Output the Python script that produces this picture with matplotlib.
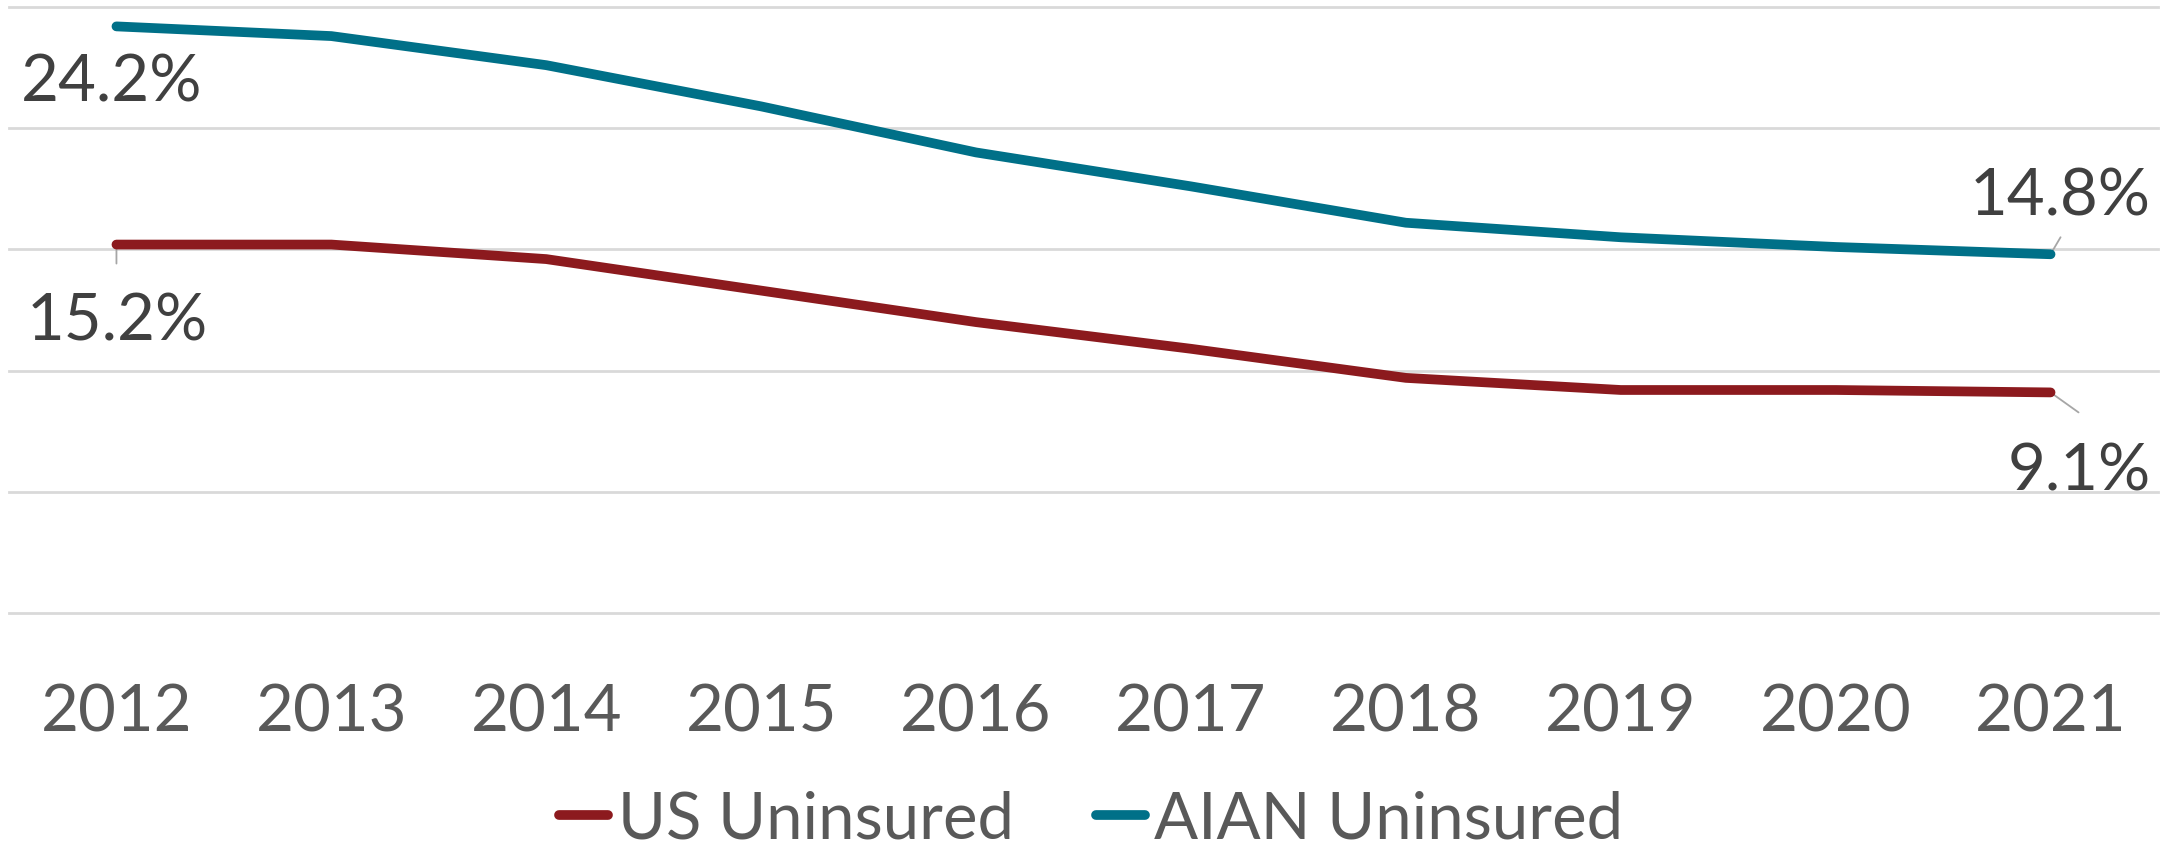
import matplotlib
matplotlib.use("Agg")
import matplotlib.pyplot as plt

years = ["2012", "2013", "2014", "2015", "2016", "2017", "2018", "2019", "2020", "2021"]
us_uninsured = [15.2, 15.2, 14.6, 13.3, 12.0, 10.9, 9.7, 9.2, 9.2, 9.1]
aian_uninsured = [24.2, 23.8, 22.6, 20.9, 19.0, 17.6, 16.1, 15.5, 15.1, 14.8]
y_ticks = [0, 5, 10, 15, 20, 25]

US_COLOR = "#8C1A1E"
AIAN_COLOR = "#007088"
FONT = "Lato"
FS = 47

plt.rcParams["font.family"] = [FONT, "DejaVu Sans"]

W, H = 2183, 853
fig = plt.figure(figsize=(W / 100, H / 100), dpi=100)
left, right, top, bottom = 9, 2158, 8, 614
ax = fig.add_axes([left / W, (H - bottom) / H, (right - left) / W, (bottom - top) / H])

x = list(range(len(years)))
l1, = ax.plot(x, us_uninsured, color=US_COLOR, lw=7, solid_capstyle="round",
              solid_joinstyle="round", label="US Uninsured", zorder=3)
l2, = ax.plot(x, aian_uninsured, color=AIAN_COLOR, lw=7, solid_capstyle="round",
              solid_joinstyle="round", label="AIAN Uninsured", zorder=3)

ax.set_xlim(-0.5, len(years) - 0.5)
ax.set_ylim(y_ticks[0], y_ticks[-1])
ax.set_yticks(y_ticks)
ax.yaxis.grid(True, color="#D9D9D9", lw=2)
for gl in ax.get_ygridlines():
    gl.set_clip_on(False)
ax.set_axisbelow(True)
ax.tick_params(axis="y", length=0, labelleft=False)
ax.set_xticks(x)
ax.set_xticklabels(years, fontsize=FS, color="#595959")
ax.tick_params(axis="x", length=0, pad=50)
for s in ax.spines.values():
    s.set_visible(False)

LABEL_COLOR = "#404040"
LEADER = "#A6A6A6"

def label(i, series, text, dx, dy, ha, leader=None):
    ax.annotate(text, xy=(i, series[i]), xytext=(dx, dy), textcoords="offset pixels",
                ha=ha, va="baseline", fontsize=FS, color=LABEL_COLOR, zorder=4)
    if leader is not None:
        ax.annotate("", xy=(i, series[i]), xytext=leader, textcoords="offset pixels",
                    arrowprops=dict(arrowstyle="-", color=LEADER, lw=1.3,
                                    shrinkA=0, shrinkB=0), zorder=2)

last = len(years) - 1
label(0, aian_uninsured, f"{aian_uninsured[0]:.1f}%", -5, -74, "center")
label(0, us_uninsured, f"{us_uninsured[0]:.1f}%", 1, -95, "center", leader=(0, -19))
label(last, aian_uninsured, f"{aian_uninsured[last]:.1f}%", 100, 40, "right", leader=(10, 17))
label(last, us_uninsured, f"{us_uninsured[last]:.1f}%", 100, -97, "right", leader=(28, -20))

fig.legend(handles=[l1, l2], loc="center", bbox_to_anchor=(0.5, (H - 820) / H),
           ncol=2, frameon=False, fontsize=FS, labelcolor="#595959",
           handlelength=0.75, handletextpad=0.15, columnspacing=1.25,
           borderaxespad=0, borderpad=0)

fig.savefig("out.png", dpi=100)
